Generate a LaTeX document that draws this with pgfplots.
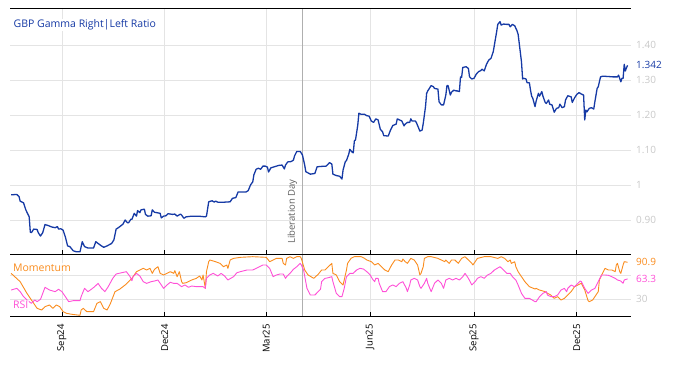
\documentclass[border=0pt]{standalone}
\usepackage{fontspec}
\setmainfont{Open Sans}
\usepackage{pgfplots}
\pgfplotsset{compat=1.18}
\definecolor{gbpblue}{RGB}{22,58,165}
\definecolor{momo}{RGB}{250,140,30}
\definecolor{rsic}{RGB}{255,80,215}
\definecolor{gridc}{RGB}{228,228,228}
\definecolor{ticklab}{RGB}{200,200,200}
\definecolor{libc}{RGB}{175,175,175}
\definecolor{libtext}{RGB}{95,95,95}
\pgfplotsset{
  panel/.style={
    scale only axis, anchor=south west, width=621pt,
    xmin=-46, xmax=504,
    axis line style={draw=none},
    xtick={0,91,181,273,365,456},
    xtick pos=left, tick align=inside,
    major tick length=5pt,
    xtick style={black, line width=0.8pt},
    ytick style={draw=none},
    grid=major, major grid style={gridc, line width=0.7pt},
    extra x ticks={213}, extra x tick labels={},
    extra x tick style={major grid style={libc, line width=0.9pt}, major tick length=0pt},
    yticklabel pos=right,
    yticklabel style={anchor=west, text=ticklab, font=\fontsize{10}{12}\selectfont, inner sep=0pt, xshift=5pt},
    clip=false,
  }
}
\begin{document}
\begin{tikzpicture}[x=1pt,y=1pt]
\path[use as bounding box] (0,0) rectangle (674,366);
% ---------------- top panel ----------------
\begin{axis}[panel,
  at={(10pt,111pt)}, height=246pt,
  ymin=0.8, ymax=1.503,
  xticklabels={},
  ytick={0.9,1,1.1,1.2,1.3,1.4},
  yticklabels={0.90,1,1.10,1.20,1.30,1.40},
]
\addplot[gbpblue, line width=1.3pt, line join=round] coordinates {
(-45,0.972) (-40,0.973) (-38,0.967) (-37,0.954) (-34,0.949) (-32,0.929) (-29,0.909) (-28,0.865)
(-27,0.864) (-25,0.874) (-22,0.873) (-21,0.864) (-19,0.854) (-17,0.864) (-15,0.887) (-12,0.884)
(-9,0.880) (-6,0.878) (-4,0.881) (-3,0.874) (-1,0.875) (1,0.871) (3,0.852) (5,0.826) (7,0.824)
(10,0.812) (13,0.809) (16,0.809) (18,0.838) (20,0.824) (23,0.820) (28,0.820) (30,0.838) (32,0.833)
(35,0.826) (37,0.822) (40,0.826) (44,0.833) (46,0.843) (48,0.874) (50,0.878) (54,0.888) (56,0.900)
(58,0.892) (59,0.892) (61,0.902) (62,0.902) (64,0.919) (66,0.911) (67,0.927) (69,0.921) (70,0.929)
(73,0.931) (74,0.916) (76,0.911) (79,0.912) (80,0.929) (82,0.922) (84,0.921) (87,0.919) (88,0.906)
(90,0.911) (92,0.912) (94,0.918) (98,0.916) (100,0.917) (102,0.911) (105,0.917) (106,0.914)
(108,0.905) (110,0.909) (115,0.911) (121,0.911) (127,0.909) (128,0.911) (130,0.952) (133,0.955)
(135,0.951) (136,0.954) (138,0.951) (144,0.951) (149,0.952) (151,0.962) (154,0.964) (156,0.980)
(159,0.980) (163,0.980) (165,0.984) (167,1.000) (169,1.009) (170,1.029) (172,1.045) (174,1.048)
(176,1.045) (178,1.054) (180,1.054) (182,1.051) (183,1.037) (185,1.049) (188,1.052) (192,1.056)
(195,1.057) (197,1.046) (198,1.057) (200,1.066) (203,1.067) (205,1.071) (206,1.083) (208,1.096)
(211,1.096) (213,1.086) (215,1.057) (216,1.038) (220,1.031) (224,1.033) (226,1.052) (229,1.053)
(234,1.054) (237,1.064) (239,1.060) (240,1.031) (243,1.027) (246,1.025) (248,1.017) (249,1.043)
(251,1.067) (252,1.070) (254,1.088) (255,1.102) (257,1.094) (258,1.092) (259,1.126) (260,1.129)
(262,1.171) (263,1.205) (265,1.202) (268,1.202) (270,1.198) (272,1.197) (274,1.183) (276,1.179)
(278,1.189) (280,1.186) (282,1.159) (284,1.152) (285,1.141) (289,1.140) (291,1.157) (293,1.170)
(296,1.174) (297,1.189) (299,1.186) (301,1.183) (303,1.169) (304,1.174) (306,1.179) (308,1.179)
(309,1.189) (310,1.183) (313,1.183) (314,1.178) (316,1.162) (317,1.154) (319,1.157) (320,1.176)
(322,1.224) (323,1.262) (324,1.269) (327,1.284) (329,1.281) (330,1.276) (333,1.274) (334,1.238)
(336,1.229) (338,1.229) (340,1.257) (341,1.284) (342,1.284) (344,1.257) (345,1.265) (347,1.271)
(349,1.269) (350,1.269) (352,1.267) (353,1.309) (354,1.308) (355,1.336) (358,1.338) (360,1.333)
(361,1.309) (363,1.303) (365,1.305) (367,1.317) (369,1.324) (371,1.327) (372,1.331) (374,1.326)
(376,1.345) (378,1.357) (380,1.362) (382,1.381) (384,1.419) (385,1.438) (386,1.459) (388,1.467)
(389,1.457) (391,1.460) (394,1.459) (396,1.459) (397,1.452) (399,1.459) (401,1.455) (403,1.441)
(404,1.431) (405,1.405) (407,1.352) (408,1.303) (409,1.305) (411,1.303) (412,1.292) (414,1.292)
(415,1.271) (416,1.254) (417,1.248) (419,1.224) (420,1.240) (422,1.262) (423,1.254) (425,1.267)
(426,1.254) (428,1.236) (429,1.233) (431,1.243) (432,1.231) (434,1.229) (436,1.208) (438,1.219)
(440,1.221) (441,1.231) (443,1.221) (445,1.224) (446,1.243) (448,1.255) (451,1.252) (452,1.236)
(454,1.249) (456,1.259) (458,1.264) (460,1.260) (462,1.257) (463,1.186) (464,1.214) (465,1.209)
(467,1.219) (469,1.221) (471,1.217) (472,1.238) (474,1.276) (475,1.281) (477,1.309) (479,1.311)
(484,1.310) (488,1.309) (492,1.309) (493,1.314) (495,1.295) (496,1.305) (497,1.305) (498,1.345)
(499,1.326) (500,1.335) (501,1.342)
};
\draw[black, line width=1pt] (rel axis cs:0,1) -- (rel axis cs:1,1);
\draw[black, line width=1pt] (rel axis cs:0,0) -- (rel axis cs:1,0);
\node[anchor=west, text=gbpblue, fill=white, inner sep=1pt, font=\fontsize{10.5}{12}\selectfont]
  at (rel axis cs:0.004,0.935) {GBP Gamma Right|Left Ratio};
\node[anchor=south west, rotate=90, inner sep=0pt, text=libtext, font=\fontsize{9.5}{11}\selectfont]
  at (axis cs:208.5,0.832) {Liberation Day};
\node[anchor=west, inner sep=0pt, text=gbpblue, font=\fontsize{10}{12}\selectfont]
  at (axis cs:504,1.342) {\hspace{5pt}1.342};
\end{axis}
% ---------------- bottom panel ----------------
\begin{axis}[panel,
  at={(10pt,49pt)}, height=62pt,
  ymin=0, ymax=103,
  ytick={30,70}, yticklabels={30,{}},
  xticklabels={Sep24,Dec24,Mar25,Jun25,Sep25,Dec25},
  xticklabel style={rotate=90, anchor=east, text=black, font=\fontsize{9.5}{11}\selectfont, inner sep=0pt, xshift=-7pt},
]
\addplot[momo, line width=0.9pt, line join=round] coordinates {
(-45,72.5) (-37,58.7) (-31,39.3) (-25,22.7) (-22,14.4) (-18,11.6) (-15,17.2) (-11,19.9) (-8,14.4)
(-5,19.9) (-2,17.2) (1,8.9) (4,6.1) (9,4.4) (16,2.8) (17,11.6) (19,14.4) (22,8.9) (28,8.9) (31,22.7)
(34,25.5) (37,14.4) (40,11.6) (43,22.7) (47,42.1) (51,46) (56,53.2) (59,58.7) (62,64.2) (66,75.3)
(69,78.1) (72,80.8) (75,78.1) (78,80.8) (80,72.5) (82,79.2) (85,83.6) (87,72.5) (90,69.8) (93,72.5)
(96,75.3) (99,72.5) (100,77) (102,67) (104,75.3) (106,58.7) (107,55.9) (110,57) (115,61.5)
(119,64.2) (122,68.1) (124,61.5) (125,69.8) (127,47.6) (128,75.3) (130,91.9) (131,94.7) (136,91.9)
(140,89.1) (143,83.6) (146,86.4) (147,80.8) (149,94.7) (152,97.4) (158,99.1) (169,100.2) (181,99.1)
(184,91.9) (187,94.7) (190,97.4) (195,97.4) (196,89.1) (198,86.4) (199,97.4) (202,100.2) (205,97.4)
(208,100.2) (211,100.2) (212,97.4) (215,78.1) (218,69.8) (223,64.2) (227,71) (230,78.1) (233,78.1)
(236,83.6) (239,89.1) (240,72.5) (243,69.8) (246,58.7) (249,53.2) (250,61.5) (252,78.1) (253,89.1)
(256,97.4) (259,100.2) (265,100.2) (268,97.4) (270,94.7) (274,91.9) (277,86.4) (280,89.1) (283,83.6)
(286,78.1) (289,75.3) (292,86.4) (295,94.7) (298,94.7) (301,91.9) (302,96.3) (304,91.9) (306,89.1)
(308,94.7) (309,97.4) (312,94.7) (315,86.4) (317,69.8) (318,72.5) (320,83.6) (321,97.4) (324,100.2)
(327,100.2) (333,97.4) (339,91.9) (340,94.7) (343,89.1) (345,94.7) (348,94.7) (351,89.1) (354,97.4)
(357,100.2) (363,89.1) (364,86.4) (366,91.9) (368,97.4) (374,100.2) (380,100.2) (386,97.4) (389,100.2)
(392,97.4) (395,91.9) (397,94.7) (398,89.1) (401,91.9) (402,83.6) (404,75.3) (407,67) (410,58.7)
(414,50.4) (419,46.5) (420,47.6) (423,44.8) (428,42.1) (430,39.3) (433,36.5) (436,31) (439,33.8)
(442,28.2) (445,31) (448,36.5) (451,42.1) (454,50.4) (457,53.2) (460,56) (463,45) (466,27)
(467,25.5) (470,28.2) (473,36.5) (475,42.1) (476,61.5) (478,69.8) (481,80.8) (484,78.1) (487,78.1)
(490,75.3) (491,86.4) (492,89.1) (494,75.3) (495,72.5) (497,86.4) (498,91.9) (501,90.9)
};
\addplot[rsic, line width=0.9pt, line join=round] coordinates {
(-45,44.8) (-40,47.6) (-37,42.1) (-34,33.8) (-31,28.2) (-27,22.7) (-24,28.2) (-22,25.5) (-19,29.3)
(-15,49.3) (-11,44.8) (-6,42.1) (-3,46) (0,42.1) (3,33.8) (6,25.5) (10,27.1) (16,27.1) (17,33.8)
(20,47.6) (23,42.1) (26,46) (29,50.4) (32,55.9) (35,47.6) (38,42.1) (41,50.4) (45,64.2) (48,71.4)
(53,73.6) (57,75.3) (60,68.1) (62,60.3) (63,67) (66,72.5) (69,68.1) (72,58.7) (75,55.9) (79,58.7)
(82,59.8) (85,61.5) (88,53.2) (90,47.6) (93,53.2) (96,57.6) (99,55.9) (102,55.9) (106,50.4)
(109,53.2) (112,49.3) (115,51.5) (119,50.4) (125,50.4) (127,47.6) (128,64.2) (131,69.8) (134,72.5)
(138,68.1) (141,72.5) (144,68.1) (147,61.5) (152,67) (155,73.6) (158,75.3) (164,78.1) (169,78.1)
(175,83.6) (178,86.4) (181,86.4) (184,80.8) (187,67) (190,69.8) (193,71.4) (196,71.4) (198,64.2)
(199,67) (202,72.5) (205,79.2) (208,83.6) (211,89.1) (212,86.4) (214,78.1) (217,47.6) (220,36.5)
(224,36.5) (229,46) (230,58.7) (233,64.2) (236,65.3) (239,67) (240,58.7) (243,39.3) (246,33.8)
(248,33.8) (250,47.6) (252,67) (255,72.5) (258,72.5) (261,78.1) (264,80.8) (267,79.7) (270,75.3)
(273,69.8) (275,63.1) (277,58.7) (278,64.2) (280,64.2) (281,56) (284,42.1) (287,42.1) (290,50.4)
(293,53.2) (296,50.4) (299,56) (302,58.7) (305,47.6) (306,42.1) (308,53.2) (309,61.5) (312,64.2)
(315,61.5) (317,50.4) (318,47.6) (321,56) (323,64.2) (324,56) (327,42.1) (330,56) (333,61.5)
(336,56) (338,47.6) (340,61.5) (343,64.2) (346,61.5) (349,64.2) (352,61.5) (355,67) (357,72.5)
(360,64.2) (363,53.2) (366,58.7) (368,64.2) (371,67) (374,64.2) (377,69.8) (380,72.5) (383,78.1)
(388,83.6) (391,78.1) (394,72.5) (397,72.5) (399,67) (402,61.5) (404,53.2) (407,39.3) (410,31)
(414,31) (419,25.5) (420,25.5) (423,33.8) (426,39.3) (429,42.1) (430,36.5) (433,33.8) (436,33.8)
(439,36.5) (442,44.8) (445,47.6) (447,42.1) (448,47.6) (451,53.2) (454,50.4) (457,56) (459,59.8)
(460,58.7) (463,47.6) (466,39.3) (469,44.8) (472,47.6) (475,58.7) (478,69.8) (481,69.8) (484,69.2)
(487,67) (490,64.2) (492,61.5) (495,59.8) (497,56) (498,61.5) (501,63.3)
};
\draw[black, line width=1pt] (rel axis cs:0,0) -- (rel axis cs:1,0);
\node[anchor=west, text=momo, fill=white, fill opacity=0.75, text opacity=1, inner sep=1pt, font=\fontsize{10.5}{12}\selectfont]
  at (rel axis cs:0.003,0.79) {Momentum};
\node[anchor=west, text=rsic, fill=white, fill opacity=0.75, text opacity=1, inner sep=1pt, font=\fontsize{10.5}{12}\selectfont]
  at (rel axis cs:0.003,0.19) {RSI};
\node[anchor=west, inner sep=0pt, text=momo, font=\fontsize{10}{12}\selectfont]
  at (axis cs:504,90.9) {\hspace{5pt}90.9};
\node[anchor=west, inner sep=0pt, text=rsic, font=\fontsize{10}{12}\selectfont]
  at (axis cs:504,63.3) {\hspace{5pt}63.3};
\end{axis}
\end{tikzpicture}
\end{document}
